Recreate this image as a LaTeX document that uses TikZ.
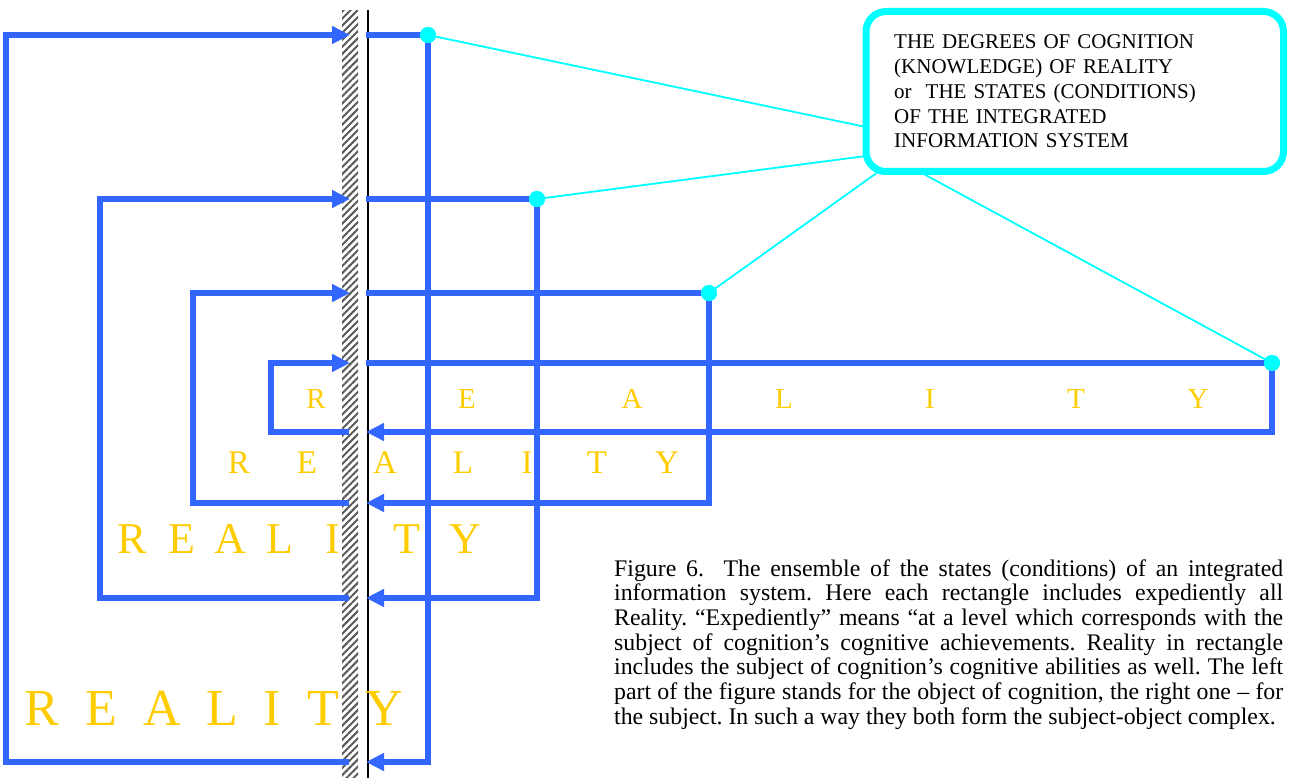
\documentclass[tikz,border=0pt]{standalone}
\usepackage{fontspec}
\setmainfont{Liberation Serif}
\usetikzlibrary{arrows.meta,patterns.meta,calc}
\definecolor{loopblue}{RGB}{51,102,255}
\definecolor{dotcyan}{RGB}{0,255,255}
\definecolor{realgold}{RGB}{255,204,0}
\frenchspacing
\begin{document}
\begin{tikzpicture}[x=1pt,y=-1pt,
  loopline/.style={draw=loopblue,line width=6pt},
  arr/.style={-{Triangle[length=18pt,width=17pt]}},
  dot/.style={circle,fill=dotcyan,inner sep=0pt,minimum size=16pt},
  link/.style={draw=dotcyan,line width=1.8pt},
  letter/.style={text=realgold,inner sep=0pt,anchor=base,font=\fontsize{#1}{#1}\selectfont},
  cogbox/.style={draw=dotcyan,line width=7pt,rounded corners=20pt,fill=white,inner sep=0pt,outer sep=0pt},
]
\useasboundingbox (0,0) rectangle (1294,778);

% hatched wall and black line
\fill[pattern={Lines[angle=45,distance=5pt,line width=2pt]},pattern color=black!65] (342,11) rectangle (358,778);
\draw[line width=2pt] (367.5,10) -- (367.5,778);

% loops
\foreach \n/\l/\t/\b/\r in {1/6/35/762/428, 2/100/199/598/537, 3/193/293/503/709, 4/271/363/432/1272} {
  \coordinate (lb\n) at (349,\b);
  \coordinate (lt\n) at (350,\t);
  \coordinate (rt\n) at (366,\t);
  \coordinate (rb\n) at (366,\b);
  \coordinate (c\n) at (\r,\t);
  \draw[loopline,arr] (lb\n) -- (\l,\b) -- (\l,\t) -- (lt\n);
  \draw[loopline,arr] (rt\n) -- (c\n) -- (\r,\b) -- (rb\n);
}

% REALITY letters
\foreach \L/\x [count=\i] in {R/316,E/467,A/632,L/784,I/930,T/1076,Y/1198}
  \node[letter=29] (rowd\i) at (\x,408) {\L};
\foreach \L/\x [count=\i] in {R/239,E/307,A/385,L/463,I/527,T/597,Y/667}
  \node[letter=33] (rowc\i) at (\x,473) {\L};
\foreach \L/\x [count=\i] in {R/132,E/182,A/230,L/280,I/333,T/407,Y/465}
  \node[letter=44] (rowb\i) at (\x,553) {\L};
\foreach \L/\x [count=\i] in {R/42,E/101,A/162,L/222,I/272,T/323,Y/384}
  \node[letter=52] (rowa\i) at (\x,725) {\L};

% links to the box
\coordinate (e1) at (866,127);
\coordinate (e2) at (866,156);
\coordinate (e3) at (878,172);
\coordinate (e4) at (920,172);
\foreach \n in {1,...,4} {
  \node[dot] (d\n) at (c\n) {};
  \draw[link] (d\n.center) -- (e\n);
}
\foreach \n in {1,...,4} \fill[dotcyan] (d\n) circle (8pt);

% box
\node[cogbox,minimum width=417.5pt,minimum height=160pt] (box) at (1074.75,91.5) {};
\node[anchor=base west,text width=380pt,align=left,inner sep=0pt,font=\fontsize{21}{24.7}\selectfont] (boxtext) at (894,49)
  {THE DEGREES OF COGNITION\\(KNOWLEDGE) OF REALITY\\or\ \ THE STATES (CONDITIONS)\\OF THE INTEGRATED\\INFORMATION SYSTEM};

% caption
\node[anchor=base west,text width=669pt,align=justify,inner sep=0pt,font=\fontsize{23.8}{24.7}\selectfont] (caption) at (614,576)
  {\hyphenpenalty=10000 \exhyphenpenalty=10000
  Figure 6.\ \ The ensemble of the states (conditions) of an integrated\linebreak
  information system. Here each rectangle includes expediently all\linebreak
  Reality. “Expediently” means “at a level which corresponds with the\linebreak
  subject of cognition’s cognitive achievements. Reality in rectangle\linebreak
  includes the subject of cognition’s cognitive abilities as well. The left\linebreak
  part of the figure stands for the object of cognition, the right one – for\linebreak
  the subject. In such a way they both form the subject-object complex.};
\end{tikzpicture}
\end{document}
